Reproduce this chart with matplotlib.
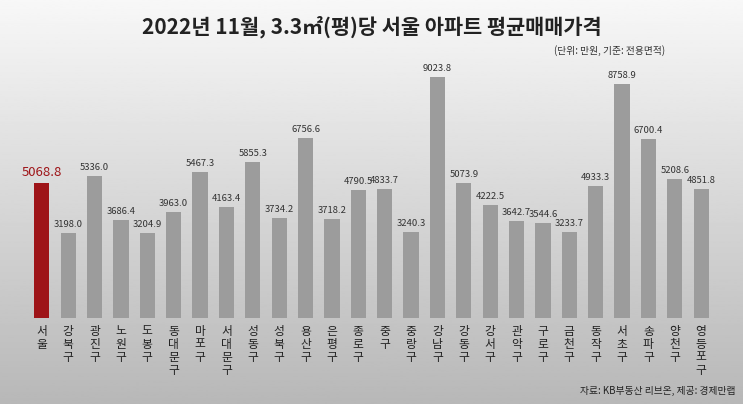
import matplotlib
matplotlib.use("Agg")
import matplotlib.pyplot as plt
from matplotlib import font_manager
import numpy as np

districts = ["서울","강북구","광진구","노원구","도봉구","동대문구","마포구","서대문구","성동구","성북구","용산구","은평구","종로구","중구","중랑구","강남구","강동구","강서구","관악구","구로구","금천구","동작구","서초구","송파구","양천구","영등포구"]
prices = [5068.8,3198.0,5336.0,3686.4,3204.9,3963.0,5467.3,4163.4,5855.3,3734.2,6756.6,3718.2,4790.5,4833.7,3240.3,9023.8,5073.9,4222.5,3642.7,3544.6,3233.7,4933.3,8758.9,6700.4,5208.6,4851.8]

names = {f.name for f in font_manager.fontManager.ttflist}
cjk = [n for n in names if "CJK" in n]
plt.rcParams["font.family"] = sorted(cjk, key=lambda n: ("KR" not in n, n)) + ["DejaVu Sans"]

fig = plt.figure(figsize=(7.43, 4.04), dpi=100)
bg = fig.add_axes([0, 0, 1, 1])
grad = np.linspace(0.97, 0.72, 256).reshape(-1, 1)
bg.imshow(grad, cmap="gray", vmin=0, vmax=1, aspect="auto", extent=[0, 1, 0, 1])
bg.axis("off")

ax = fig.add_axes([0.035, 0.213, 0.93, 0.64])
ax.patch.set_alpha(0)
x = np.arange(len(districts))
colors = ["#9e1418"] + ["#9c9c9c"] * (len(districts) - 1)
ax.bar(x, prices, width=0.58, color=colors)
for i, v in enumerate(prices):
    ax.text(i, v + 150, f"{v:.1f}", ha="center", va="bottom",
            fontsize=9.5 if i == 0 else 6.8, color="#9e1418" if i == 0 else "#333333")
ax.set_xlim(-0.6, len(districts) - 0.4)
ax.set_ylim(0, 9700)
ax.axis("off")
for i, d in enumerate(districts):
    ax.text(i, -250, "\n".join(d), ha="center", va="top", fontsize=8.5,
            color="#222222", linespacing=1.0)

fig.text(0.5, 0.935, "2022년 11월, 3.3㎡(평)당 서울 아파트 평균매매가격", ha="center",
         va="center", fontsize=15, fontweight="bold", color="#222222")
fig.text(0.82, 0.875, "(단위: 만원, 기준: 전용면적)", ha="center", va="center",
         fontsize=7, color="#333333")
fig.text(0.99, 0.02, "자료: KB부동산 리브온, 제공: 경제만랩", ha="right", va="bottom",
         fontsize=7, color="#222222", style="italic")
fig.savefig("out.png", dpi=100)
